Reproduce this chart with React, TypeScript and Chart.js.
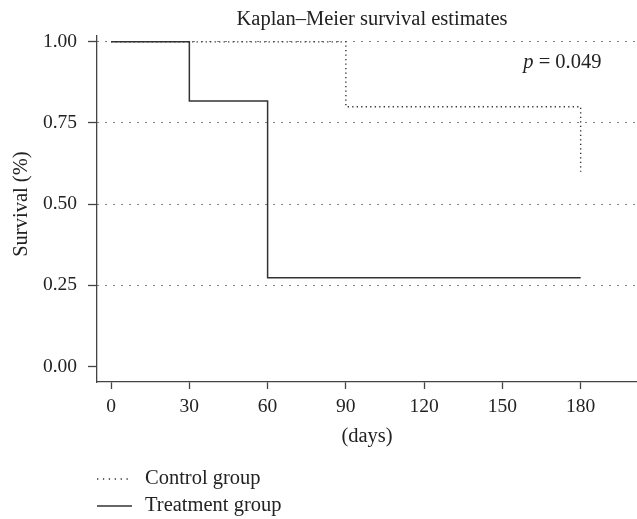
import React, { useEffect, useRef } from "react";
import { Chart, registerables } from "chart.js";

Chart.register(...registerables);

const chartTitle = "Kaplan–Meier survival estimates";
const xAxisTitle = "(days)";
const yAxisTitle = "Survival (%)";
const xTicks = [0, 30, 60, 90, 120, 150, 180];
const yTicks = [0, 0.25, 0.5, 0.75, 1.0];
const controlLabel = "Control group";
const controlDays = [0, 90, 180];
const controlSurv = [1.0, 0.8, 0.6];
const treatLabel = "Treatment group";
const treatDays = [0, 30, 60, 180];
const treatSurv = [1.0, 0.818, 0.273, 0.273];
const pValueText = "0.049";
const pValuePos = [158, 0.935];

const FONT = "'Liberation Serif', 'DejaVu Serif', serif";
const FS = 20.5;
const TFS = 19.5;
const INK = "#222";
const LINE = "#333";

export default function App() {
  const ref = useRef<HTMLCanvasElement | null>(null);

  useEffect(() => {
    if (!ref.current) return;
    const extras = {
      id: "extras",
      afterDraw(chart: any) {
        const ctx = chart.ctx as CanvasRenderingContext2D;
        const ca = chart.chartArea;
        const xs = chart.scales.x;
        const ys = chart.scales.y;
        ctx.save();
        ctx.fillStyle = INK;
        ctx.font = `${FS}px ${FONT}`;
        ctx.textBaseline = "middle";
        ctx.textAlign = "center";
        ctx.fillText(chartTitle, (ca.left + ca.right) / 2 + 5, 20);
        ctx.fillText(xAxisTitle, (ca.left + ca.right) / 2, 437);
        ctx.save();
        ctx.translate(22, (ys.getPixelForValue(0) + ys.getPixelForValue(1)) / 2);
        ctx.rotate(-Math.PI / 2);
        ctx.fillText(yAxisTitle, 0, 0);
        ctx.restore();
        ctx.textAlign = "left";
        const px = xs.getPixelForValue(pValuePos[0]);
        const py = ys.getPixelForValue(pValuePos[1]);
        ctx.font = `italic ${FS}px ${FONT}`;
        ctx.fillText("p", px, py);
        const pw = ctx.measureText("p").width;
        ctx.font = `${FS}px ${FONT}`;
        ctx.fillText(" = " + pValueText, px + pw, py);
        const rows = [
          { label: controlLabel, dash: [1.3, 4.6], y: 479 },
          { label: treatLabel, dash: [], y: 506 },
        ];
        for (const r of rows) {
          ctx.beginPath();
          ctx.setLineDash(r.dash);
          ctx.strokeStyle = LINE;
          ctx.lineWidth = 1.4;
          ctx.moveTo(97, r.y);
          ctx.lineTo(132, r.y);
          ctx.stroke();
          ctx.setLineDash([]);
          ctx.fillText(r.label, 145, r.y);
        }
        ctx.restore();
      },
    };

    const chart = new Chart(ref.current, {
      type: "line",
      data: {
        datasets: [
          {
            label: controlLabel,
            data: controlDays.map((d, i) => ({ x: d, y: controlSurv[i] })),
            stepped: true,
            borderColor: LINE,
            borderWidth: 1.4,
            borderDash: [1.3, 3.2],
            pointRadius: 0,
            fill: false,
          },
          {
            label: treatLabel,
            data: treatDays.map((d, i) => ({ x: d, y: treatSurv[i] })),
            stepped: true,
            borderColor: LINE,
            borderWidth: 1.5,
            pointRadius: 0,
            fill: false,
          },
        ],
      },
      options: {
        animation: false,
        responsive: true,
        maintainAspectRatio: false,
        layout: { padding: { top: 36, right: 0, left: 0, bottom: 0 } },
        plugins: {
          legend: { display: false },
          title: { display: false },
          tooltip: { enabled: false },
        },
        scales: {
          x: {
            type: "linear",
            position: "bottom",
            min: -5.4,
            max: 201.6,
            afterBuildTicks: (axis: any) => {
              axis.ticks = xTicks.map((v) => ({ value: v }));
            },
            afterFit: (axis: any) => {
              axis.height = 137;
            },
            ticks: {
              color: INK,
              font: { family: FONT, size: TFS },
              padding: 6,
              maxRotation: 0,
              autoSkip: false,
            },
            grid: {
              drawOnChartArea: false,
              drawTicks: true,
              tickLength: 7,
              tickColor: "#444",
              tickWidth: 1.3,
            },
            border: { display: true, color: "#444", width: 1.3 },
          },
          y: {
            type: "linear",
            min: -0.048,
            max: 1.018,
            afterBuildTicks: (axis: any) => {
              axis.ticks = yTicks.map((v) => ({ value: v }));
            },
            afterFit: (axis: any) => {
              axis.width = 97;
            },
            ticks: {
              color: INK,
              font: { family: FONT, size: TFS },
              padding: 11,
              callback: (v: any) => Number(v).toFixed(2),
            },
            grid: {
              drawOnChartArea: true,
              drawTicks: true,
              tickLength: 9,
              tickColor: "#444",
              tickWidth: 1.3,
              tickBorderDash: [],
              color: (c: any) => (c.tick && c.tick.value === 0 ? "rgba(0,0,0,0)" : "#555"),
              lineWidth: 1,
            } as any,
            border: { display: true, color: "#444", width: 1.3, dash: [1.5, 6.5] },
          },
        },
      } as any,
      plugins: [extras],
    });
    return () => chart.destroy();
  }, []);

  return (
    <div style={{ position: "absolute", left: 0, top: 0, width: 637, height: 519, background: "#fff" }}>
      <canvas ref={ref} />
    </div>
  );
}
